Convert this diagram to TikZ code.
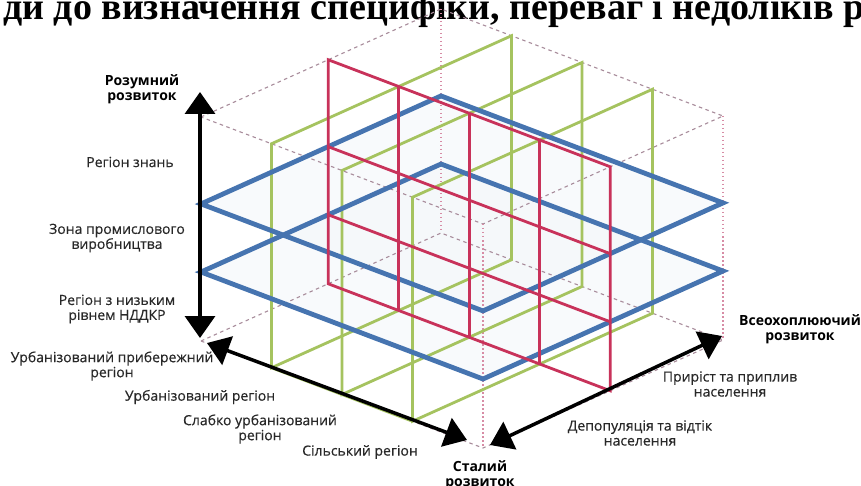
\documentclass[tikz,border=0pt]{standalone}
\usepackage{fontspec}
\setmainfont{Open Sans}
\newfontfamily\labfont[FakeBold=0.35]{Open Sans}
\newfontfamily\ttlfont{Liberation Serif}
\usetikzlibrary{arrows.meta,calc}
\definecolor{bluec}{RGB}{70,116,176}
\definecolor{redc}{RGB}{200,50,90}
\definecolor{greenc}{RGB}{165,195,95}
\definecolor{dashc}{RGB}{168,140,155}
\definecolor{dotc}{RGB}{215,140,165}
\definecolor{labc}{RGB}{40,40,40}
\begin{document}
\begin{tikzpicture}[x=1pt,y=-1pt,
  lab/.style={font=\labfont\fontsize{14}{15}\selectfont, text=labc, align=center, inner sep=0pt},
  blab/.style={font=\fontsize{14}{15.5}\selectfont\bfseries, text=black, align=center, inner sep=0pt},
  dashedge/.style={draw=dashc, line width=1.1pt, dash pattern=on 3.5pt off 3.5pt},
  dotedge/.style={draw=dotc, line width=1.4pt, dash pattern=on 1.5pt off 2.5pt},
  bluep/.style={draw=bluec, line width=4.8pt, line join=miter},
  redp/.style={draw=redc, line width=2.8pt},
  greenp/.style={draw=greenc, line width=2.8pt},
  axisarrow/.style={line width=3.5pt, {Triangle[length=22pt,width=30pt]}-{Triangle[length=22pt,width=30pt]}},
]
\useasboundingbox (0,0) rectangle (861,486);
\fill[white] (0,0) rectangle (861,486);

% title (cut off at the top)
\node[anchor=base west, font=\ttlfont\bfseries\fontsize{38}{38}\selectfont, inner sep=0pt] (title) at (3,20) {ди до визначення специфіки, переваг і недоліків р};

\begin{scope}[shift={(441,9)}, x={(-240pt,-108pt)}, y={(282pt,-107pt)}, z={(0pt,-224pt)}]
  \coordinate (BT) at (0,0,0);
  \coordinate (LT) at (1,0,0);
  \coordinate (RT) at (0,1,0);
  \coordinate (FT) at (1,1,0);
  \coordinate (BB) at (0,0,1);
  \coordinate (LB) at (1,0,1);
  \coordinate (RB) at (0,1,1);
  \coordinate (FB) at (1,1,1);
  % blue planes (fill)
  \foreach \d in {0.388,0.692}{
    \fill[bluec!6, opacity=.6] (1,0,\d) -- (0,0,\d) -- (0,1,\d) -- (1,1,\d) -- cycle;
  }
  % cube outline
  \draw[dashedge] (LT) -- (BT) -- (RT) -- (FT) -- cycle;
  \draw[dashedge] (LB) -- (BB) -- (RB);
  \draw[dashedge] (LB) -- (FB) -- (RB);
  \draw[dotedge] (BT) -- (BB);
  \draw[dotedge] (FT) -- (FB);
  \draw[dotedge] (RT) -- (RB);
  % green planes
  \foreach \f in {0.25,0.5,0.75}{
    \draw[greenp] (1,\f,0) -- (0,\f,0) -- (0,\f,1) -- (1,\f,1) -- cycle;
  }
  \draw[greenp] (1,0.25,1) -- (1,0.75,1);
  % blue planes
  \foreach \d in {0.388,0.692}{
    \draw[bluep] (1,0,\d) -- (0,0,\d) -- (0,1,\d) -- (1,1,\d) -- cycle;
  }
  % red plane
  \draw[redp] (0.47,0,0) -- (0.47,1,0) -- (0.47,1,1) -- (0.47,0,1) -- cycle;
  \foreach \f in {0.25,0.5,0.75}{
    \draw[redp] (0.47,\f,0) -- (0.47,\f,1);
  }
  \foreach \d in {0.388,0.692}{
    \draw[redp] (0.47,0,\d) -- (0.47,1,\d);
  }
\end{scope}

% axes
\coordinate (vtop) at (200,92);
\coordinate (vbot) at (200,338);
\coordinate (ltop) at (207,343);
\coordinate (lbot) at (467,440);
\coordinate (rbot) at (490,445);
\coordinate (rtop) at (722,336);
\draw[axisarrow] (vtop) -- (vbot);
\draw[axisarrow] (ltop) -- (lbot);
\draw[axisarrow] (rbot) -- (rtop);

% labels
\node[blab] (razum) at (142,89) {Розумний\\розвиток};
\node[lab] (rknow) at (130,162) {Регіон знань};
\node[lab] (zona) at (117,238) {Зона промислового\\виробництва};
\node[lab] (nizk) at (117,309) {Регіон з низьким\\рівнем НДДКР};
\node[lab] (urbcoast) at (112,366) {Урбанізований прибережний\\регіон};
\node[lab] (urb) at (200,397) {Урбанізований регіон};
\node[lab] (slab) at (260,429) {Слабко урбанізований\\регіон};
\node[lab] (silsk) at (360,452) {Сільський регіон};
\node[blab] (stal) at (480,475) {Сталий\\розвиток};
\node[blab] (vseokh) at (800,329) {Всеохоплюючий\\розвиток};
\node[lab] (prir) at (730,384) {Приріст та приплив\\населення};
\node[lab] (depop) at (640,433) {Депопуляція та відтік\\населення};
\end{tikzpicture}
\end{document}
